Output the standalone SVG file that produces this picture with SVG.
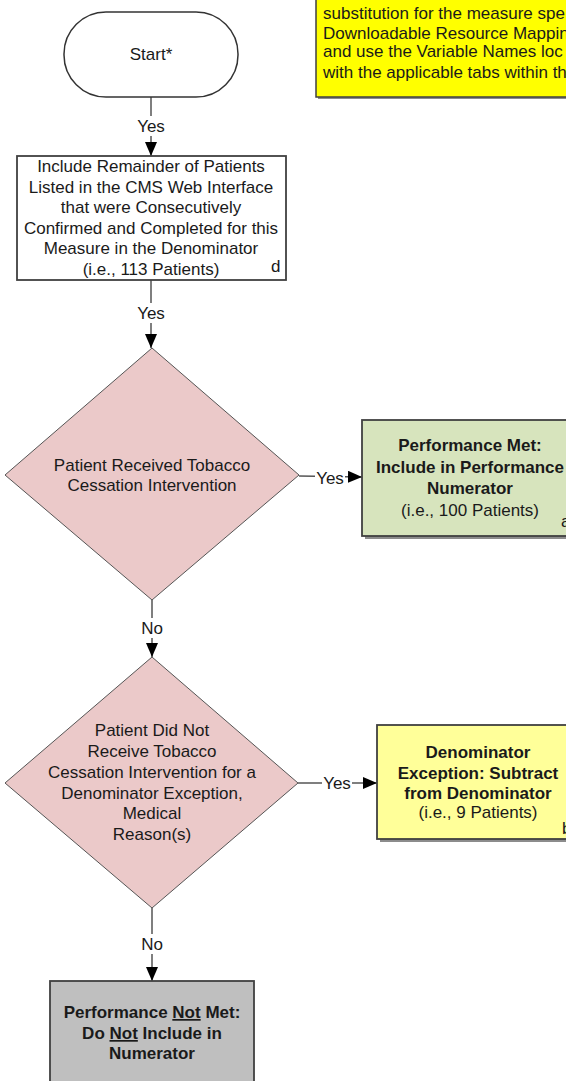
<svg xmlns="http://www.w3.org/2000/svg" width="566" height="1081" viewBox="0 0 566 1081">
<defs>
<marker id="arr" viewBox="0 0 10 10" refX="10" refY="5" markerWidth="10" markerHeight="10" markerUnits="userSpaceOnUse" orient="auto">
<path d="M0,0 L10,5 L0,10 z" fill="#000"/>
</marker>
<marker id="arrv" viewBox="0 0 14 12" refX="14" refY="6" markerWidth="14" markerHeight="12" markerUnits="userSpaceOnUse" orient="auto">
<path d="M0,0 L14,6 L0,12 z" fill="#000"/>
</marker>
</defs>
<style>
text{font-family:"Liberation Sans",Arial,sans-serif;font-size:17px;fill:#1a1a1a;text-anchor:middle}
.b{font-weight:bold}
.l{text-anchor:start}
.conn{stroke:#555;stroke-width:1.5;fill:none}
.dia{fill:#ebc9c9;stroke:#555;stroke-width:1}
.box{stroke:#404040;stroke-width:1.8}
.sh{fill:#8c8c8c}
.lbl{fill:#fff}
</style>
<rect width="566" height="1081" fill="#fff"/>

<g id="note">
<rect class="sh" x="318" y="-10" width="260" height="109"/>
<rect x="316" y="-12" width="260" height="109" fill="#ffff00" stroke="#404040" stroke-width="1.5"/>
<text class="l" x="323" y="19">substitution for the measure spe</text>
<text class="l" x="323" y="39">Downloadable Resource Mappin</text>
<text class="l" x="323" y="57">and use the Variable Names loc</text>
<text class="l" x="323" y="78">with the applicable tabs within th</text>
</g>

<g id="connectors">
<line class="conn" x1="151" y1="97" x2="151" y2="156" marker-end="url(#arrv)"/>
<line class="conn" x1="151" y1="280" x2="151" y2="348" marker-end="url(#arrv)"/>
<line class="conn" x1="152" y1="600" x2="152" y2="657" marker-end="url(#arrv)"/>
<line class="conn" x1="152" y1="908" x2="152" y2="981" marker-end="url(#arrv)"/>
<line class="conn" x1="299" y1="476" x2="362" y2="477" marker-end="url(#arrv)"/>
<line class="conn" x1="298" y1="783" x2="377" y2="783" marker-end="url(#arrv)"/>
<rect class="lbl" x="135" y="116" width="32" height="20"/>
<text x="151" y="132">Yes</text>
<rect class="lbl" x="135" y="303" width="32" height="20"/>
<text x="151" y="319">Yes</text>
<rect class="lbl" x="139" y="618" width="26" height="20"/>
<text x="152" y="634">No</text>
<rect class="lbl" x="139" y="934" width="26" height="20"/>
<text x="152" y="950">No</text>
<rect class="lbl" x="315" y="467" width="30" height="18"/>
<text x="330" y="484">Yes</text>
<rect class="lbl" x="322" y="773" width="30" height="18"/>
<text x="337" y="789">Yes</text>
</g>

<g id="start">
<rect x="64" y="12" width="174" height="85" rx="42" ry="42" fill="#fff" stroke="#333" stroke-width="1.5"/>
<text x="151" y="60">Start*</text>
</g>

<g id="include">
<rect class="box" x="17" y="156" width="269" height="124" fill="#fff"/>
<text x="151" y="172">Include Remainder of Patients</text>
<text x="151" y="193">Listed in the CMS Web Interface</text>
<text x="151" y="213">that were Consecutively</text>
<text x="151" y="234">Confirmed and Completed for this</text>
<text x="151" y="254">Measure in the Denominator</text>
<text x="151" y="275">(i.e., 113 Patients)</text>
<text class="l" x="271" y="272">d</text>
</g>

<g id="decision1">
<polygon class="dia" points="152,348 299,475 152,600 5,475"/>
<text x="152" y="471">Patient Received Tobacco</text>
<text x="152" y="491">Cessation Intervention</text>
</g>

<g id="perfMet">
<rect class="sh" x="365" y="423" width="216" height="116"/>
<rect class="box" x="362" y="420" width="216" height="116" fill="#d7e4bd"/>
<text class="b" x="470" y="451">Performance Met:</text>
<text class="b" x="470" y="473">Include in Performance</text>
<text class="b" x="470" y="494">Numerator</text>
<text x="470" y="516">(i.e., 100 Patients)</text>
<text class="l" x="561" y="527">a</text>
</g>

<g id="decision2">
<polygon class="dia" points="152,657 298,783 152,908 5,783"/>
<text x="152" y="736">Patient Did Not</text>
<text x="152" y="757">Receive Tobacco</text>
<text x="152" y="778">Cessation Intervention for a</text>
<text x="152" y="799">Denominator Exception,</text>
<text x="152" y="819">Medical</text>
<text x="152" y="840">Reason(s)</text>
</g>

<g id="denException">
<rect class="sh" x="380" y="728" width="204" height="114"/>
<rect class="box" x="377" y="725" width="204" height="114" fill="#ffff99"/>
<text class="b" x="478" y="758">Denominator</text>
<text class="b" x="478" y="779">Exception: Subtract</text>
<text class="b" x="478" y="799">from Denominator</text>
<text x="478" y="818">(i.e., 9 Patients)</text>
<text class="l" x="562" y="834">b</text>
</g>

<g id="perfNotMet">
<rect class="box" x="50" y="981" width="204" height="116" fill="#bfbfbf"/>
<text class="b" x="152" y="1018">Performance <tspan text-decoration="underline">Not</tspan> Met:</text>
<text class="b" x="152" y="1039">Do <tspan text-decoration="underline">Not</tspan> Include in</text>
<text class="b" x="152" y="1059">Numerator</text>
</g>
</svg>
